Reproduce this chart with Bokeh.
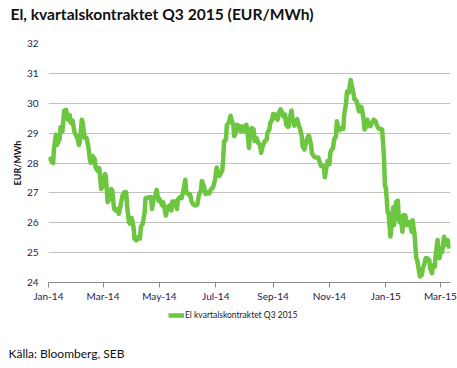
import pandas as pd
from bokeh.plotting import figure
from bokeh.layouts import column
from bokeh.models import (ColumnDataSource, FixedTicker, DatetimeTickFormatter,
                          Legend, LegendItem, Label, Range1d)
from bokeh.embed import file_html
from bokeh.resources import INLINE

# ---------------- data ----------------
dates = [
    "2014-01-01", "2014-01-03", "2014-01-06", "2014-01-07", "2014-01-09", "2014-01-10",
    "2014-01-13", "2014-01-14", "2014-01-16", "2014-01-18", "2014-01-20", "2014-01-22",
    "2014-01-24", "2014-01-25", "2014-01-27", "2014-01-29", "2014-02-01", "2014-02-03",
    "2014-02-04", "2014-02-06", "2014-02-07", "2014-02-09", "2014-02-11", "2014-02-13",
    "2014-02-15", "2014-02-16", "2014-02-18", "2014-02-20", "2014-02-21", "2014-02-23",
    "2014-02-25", "2014-02-27", "2014-03-01", "2014-03-03", "2014-03-04", "2014-03-06",
    "2014-03-08", "2014-03-10", "2014-03-11", "2014-03-13", "2014-03-15", "2014-03-17",
    "2014-03-18", "2014-03-20", "2014-03-22", "2014-03-24", "2014-03-26", "2014-03-27",
    "2014-03-29", "2014-03-30", "2014-04-01", "2014-04-03", "2014-04-04", "2014-04-06",
    "2014-04-08", "2014-04-10", "2014-04-11", "2014-04-13", "2014-04-15", "2014-04-16",
    "2014-04-19", "2014-04-22", "2014-04-23", "2014-04-25", "2014-04-26", "2014-04-28",
    "2014-04-30", "2014-05-01", "2014-05-04", "2014-05-05", "2014-05-07", "2014-05-08",
    "2014-05-10", "2014-05-12", "2014-05-14", "2014-05-15", "2014-05-18", "2014-05-20",
    "2014-05-21", "2014-05-23", "2014-05-25", "2014-05-27", "2014-05-29", "2014-05-30",
    "2014-06-01", "2014-06-03", "2014-06-05", "2014-06-07", "2014-06-09", "2014-06-11",
    "2014-06-13", "2014-06-15", "2014-06-16", "2014-06-18", "2014-06-20", "2014-06-22",
    "2014-06-24", "2014-06-26", "2014-06-28", "2014-06-30", "2014-07-02", "2014-07-04",
    "2014-07-05", "2014-07-08", "2014-07-09", "2014-07-10", "2014-07-12", "2014-07-13",
    "2014-07-15", "2014-07-17", "2014-07-18", "2014-07-20", "2014-07-21", "2014-07-22",
    "2014-07-24", "2014-07-26", "2014-07-28", "2014-07-30", "2014-08-01", "2014-08-03",
    "2014-08-04", "2014-08-06",
    "2014-08-07", "2014-08-09", "2014-08-11", "2014-08-12", "2014-08-14", "2014-08-16",
    "2014-08-18", "2014-08-19", "2014-08-21", "2014-08-23", "2014-08-25", "2014-08-26",
    "2014-08-28", "2014-08-29", "2014-08-31", "2014-09-01", "2014-09-02", "2014-09-04",
    "2014-09-06", "2014-09-07", "2014-09-09", "2014-09-11", "2014-09-12", "2014-09-14",
    "2014-09-15", "2014-09-17", "2014-09-18", "2014-09-19", "2014-09-21", "2014-09-22",
    "2014-09-24", "2014-09-26", "2014-09-27", "2014-09-29", "2014-09-30", "2014-10-02",
    "2014-10-03", "2014-10-05", "2014-10-07", "2014-10-09", "2014-10-10", "2014-10-12",
    "2014-10-13", "2014-10-15", "2014-10-17", "2014-10-20", "2014-10-21", "2014-10-23",
    "2014-10-24", "2014-10-26", "2014-10-27", "2014-10-29", "2014-10-30", "2014-11-01",
    "2014-11-02", "2014-11-03", "2014-11-05", "2014-11-06", "2014-11-08", "2014-11-09",
    "2014-11-11", "2014-11-12", "2014-11-14", "2014-11-16", "2014-11-17", "2014-11-19",
    "2014-11-20", "2014-11-22", "2014-11-23", "2014-11-24", "2014-11-25", "2014-11-27",
    "2014-11-28", "2014-11-30", "2014-12-01", "2014-12-02", "2014-12-03", "2014-12-05",
    "2014-12-06", "2014-12-08", "2014-12-09", "2014-12-10", "2014-12-12", "2014-12-13",
    "2014-12-15", "2014-12-16", "2014-12-18", "2014-12-19", "2014-12-21", "2014-12-22",
    "2014-12-24", "2014-12-25", "2014-12-27", "2014-12-28", "2014-12-30", "2014-12-31",
    "2015-01-01", "2015-01-02", "2015-01-03", "2015-01-04", "2015-01-05", "2015-01-06",
    "2015-01-07", "2015-01-08", "2015-01-09", "2015-01-10", "2015-01-11", "2015-01-12",
    "2015-01-14", "2015-01-15", "2015-01-16", "2015-01-17", "2015-01-19", "2015-01-20",
    "2015-01-22", "2015-01-23", "2015-01-24", "2015-01-26", "2015-01-27", "2015-01-29",
    "2015-01-30", "2015-02-01", "2015-02-02", "2015-02-03", "2015-02-04", "2015-02-06",
    "2015-02-07", "2015-02-09", "2015-02-10", "2015-02-12", "2015-02-13", "2015-02-15",
    "2015-02-17", "2015-02-18", "2015-02-20", "2015-02-21", "2015-02-23", "2015-02-24",
    "2015-02-26", "2015-02-27", "2015-02-28", "2015-03-02", "2015-03-03", "2015-03-05",
    "2015-03-06", "2015-03-08", "2015-03-09", "2015-03-11",
]

values = [
    28.18, 28.12, 28.00, 28.50, 28.95, 28.60,
    28.80, 29.20, 29.05, 29.75, 29.78, 29.45,
    29.60, 29.35, 29.42, 29.05, 28.85, 28.60,
    28.73, 29.45, 29.35, 28.85, 28.85, 28.57,
    28.07, 28.00, 28.23, 28.12, 27.85, 27.74,
    27.83, 27.13, 27.24, 27.63, 27.57, 26.69,
    26.80, 27.13, 27.07, 26.46, 26.41, 26.46,
    26.30, 26.58, 26.90, 27.02, 27.02, 26.58,
    26.02, 25.97, 26.16, 25.86, 25.47, 25.41,
    25.52, 25.47, 25.86, 25.97, 26.35, 26.82,
    26.85, 26.85, 26.46, 26.85, 26.85, 27.10,
    26.74, 26.80, 26.58, 26.69, 26.41, 26.24,
    26.52, 26.58, 26.41, 26.71, 26.71, 26.46,
    26.77, 26.85, 26.82, 27.07, 27.44, 27.04,
    26.96, 26.96, 26.69, 26.61, 26.58, 26.61,
    26.96, 27.07, 27.40, 27.24, 26.96, 27.02,
    26.98, 27.13, 27.18, 27.40, 27.85, 27.63,
    27.57, 27.74, 28.12, 28.73, 28.78, 29.28,
    29.34, 29.58, 29.45, 29.28, 28.90, 28.95,
    29.28, 29.25, 29.06, 29.23, 29.06, 29.28,
    29.17, 28.50,
    28.95, 29.17, 29.12, 28.73, 28.84, 28.67,
    28.59, 28.34, 28.59, 28.73, 28.78, 29.02,
    29.12, 29.34, 29.45, 29.64, 29.50, 29.62,
    29.45, 29.62, 29.80, 29.69, 29.56, 29.62,
    29.29, 29.21, 29.23, 29.50, 29.76, 29.50,
    29.25, 29.43, 29.47, 29.23, 29.17, 28.90,
    28.56, 28.45, 28.73, 28.90, 28.90, 28.62,
    28.34, 28.23, 28.18, 28.18, 28.07, 27.90,
    27.92, 27.88, 27.52, 27.90, 28.07, 27.96,
    28.34, 28.43, 28.51, 28.79, 28.88, 29.40,
    29.12, 29.10, 29.18, 29.14, 29.62, 30.00,
    30.39, 30.36, 30.58, 30.78, 30.61, 30.34,
    30.14, 30.09, 30.00, 29.84, 29.73, 29.89,
    29.84, 29.45, 29.12, 29.17, 29.45, 29.34,
    29.23, 29.28, 29.40, 29.45, 29.40, 29.28,
    29.17, 29.14, 29.14, 29.12, 28.23, 27.23,
    27.18, 26.80, 26.35, 26.30, 25.92, 25.54,
    25.81, 26.25, 26.52, 25.92, 26.25, 26.69,
    26.74, 26.19, 26.02, 26.19, 25.70, 26.25,
    26.25, 26.08, 25.92, 25.97, 26.02, 25.70,
    26.08, 25.64, 25.20, 24.81, 24.75, 24.36,
    24.20, 24.25, 24.47, 24.64, 24.81, 24.81,
    24.75, 24.47, 24.31, 24.58, 24.53, 24.92,
    25.42, 25.08, 24.81, 25.14, 25.03, 25.53,
    25.25, 25.42, 25.42, 25.14,
]

series_name = "El kvartalskontraktet Q3 2015"
title_text = "El, kvartalskontraktet Q3 2015 (EUR/MWh)"
source_text = "Källa: Bloomberg, SEB"
y_label = "EUR/MWh"
y_ticks = [24, 25, 26, 27, 28, 29, 30, 31, 32]
x_tick_dates = ["2014-01-01", "2014-03-01", "2014-05-01", "2014-07-01", "2014-09-01",
                "2014-11-01", "2015-01-01", "2015-03-01"]
x_start = "2014-01-01"
x_end = "2015-03-12"

# ---------------- style ----------------
FONT = "Lato"
GREEN = "#6cc640"
TICK_COLOR = "#1c1c50"
W = 457

src = ColumnDataSource(dict(date=pd.to_datetime(dates), value=values))


def strip(height):
    s = figure(width=W, height=height, output_backend="svg", toolbar_location=None,
               x_axis_location=None, y_axis_location=None,
               x_range=Range1d(0, 1), y_range=Range1d(0, 1))
    s.min_border = 0
    s.outline_line_color = None
    s.xgrid.visible = False
    s.ygrid.visible = False
    s.border_fill_color = "white"
    s.frame_align = False
    return s


# ---------------- title strip ----------------
H0 = 30
p0 = strip(H0)
p0.add_layout(Label(x=10, y=H0 - 13, x_units="screen", y_units="screen", text=title_text,
                    text_font=FONT, text_font_style="bold", text_font_size="15.6px",
                    text_color="#111111", text_baseline="middle", text_align="left"))

# ---------------- main chart ----------------
H1 = 274
p = figure(width=W, height=H1, x_axis_type="datetime", output_backend="svg",
           toolbar_location=None,
           x_range=Range1d(pd.Timestamp(x_start), pd.Timestamp(x_end)),
           y_range=Range1d(24, 32))
p.frame_align = False
p.min_border_left = 48
p.min_border_right = 7
p.min_border_top = 13
p.min_border_bottom = 20
p.outline_line_color = None
p.background_fill_color = "white"
p.border_fill_color = "white"

line = p.line("date", "value", source=src, line_color=GREEN, line_width=4.5,
              line_join="round")

xa = p.xaxis[0]
xa.ticker = FixedTicker(ticks=[pd.Timestamp(d).value / 1e6 for d in x_tick_dates])
xa.formatter = DatetimeTickFormatter(days="%b-%y", months="%b-%y", years="%b-%y")
xa.major_label_text_font = FONT
xa.major_label_text_font_size = "10px"
xa.major_label_text_color = TICK_COLOR
xa.axis_line_color = "#8a8a8a"
xa.major_tick_line_color = "#8a8a8a"
xa.major_tick_in = 0
xa.major_tick_out = 5
xa.minor_tick_line_color = None
xa.major_label_standoff = 2

ya = p.yaxis[0]
ya.ticker = FixedTicker(ticks=y_ticks)
ya.major_label_text_font = FONT
ya.major_label_text_font_size = "10px"
ya.major_label_text_color = TICK_COLOR
ya.axis_line_color = None
ya.major_tick_line_color = None
ya.minor_tick_line_color = None
ya.major_label_standoff = 4
ya.axis_label = y_label
ya.axis_label_text_font = FONT
ya.axis_label_text_font_style = "bold"
ya.axis_label_text_font_size = "9px"
ya.axis_label_text_color = "#111111"
ya.axis_label_standoff = 1

p.xgrid.grid_line_color = None
p.ygrid.grid_line_color = "#c2c2bc"
p.ygrid.grid_line_width = 1

# ---------------- legend + source strip ----------------
H2 = 368 - H0 - H1
p2 = strip(H2)
# legend swatch renderer: same series, kept outside this strip's visible ranges
swatch = p2.line("date", "value", source=src, line_color=GREEN, line_width=4.5)
legend = Legend(items=[LegendItem(label=series_name, renderers=[swatch])],
                location=(168, H2 - 16), orientation="horizontal",
                label_text_font=FONT, label_text_font_size="8.5px",
                label_text_color="#222222", glyph_width=16, glyph_height=8,
                label_standoff=1, padding=2, margin=0, spacing=0,
                border_line_color=None, background_fill_alpha=0)
p2.add_layout(legend, "center")

p2.add_layout(Label(x=8, y=H2 - 49, x_units="screen", y_units="screen", text=source_text,
                    text_font=FONT, text_font_size="12px", text_color="#111111",
                    text_baseline="middle", text_align="left"))

layout = column(p0, p, p2, spacing=0)
open("out.html", "w").write(file_html(layout, INLINE))
